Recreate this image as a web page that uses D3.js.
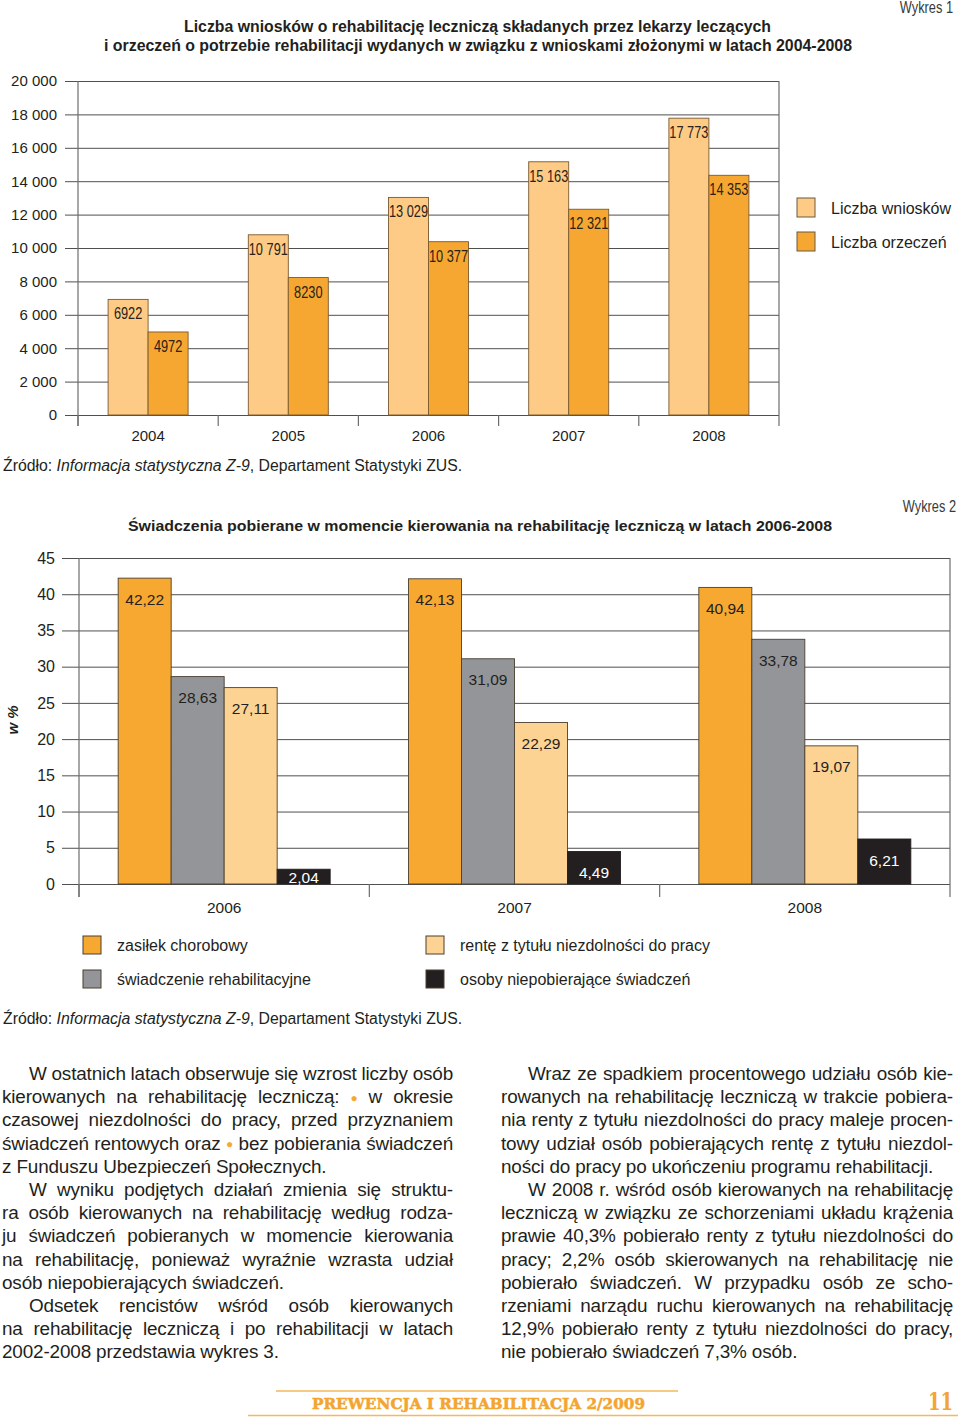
<!DOCTYPE html>
<html><head><meta charset="utf-8">
<script src="https://cdn.jsdelivr.net/npm/d3@7"></script>
<style>
html,body{margin:0;padding:0;background:#fff;}
svg{display:block;font-family:"Liberation Sans",Arial,Helvetica,sans-serif;}
</style></head><body>
<svg id="page" width="960" height="1420"></svg>
<script>
// ---------- DATA ----------
const years1 = ["2004","2005","2006","2007","2008"];
const wnioski = [6922,10791,13029,15163,17773];
const orzeczenia = [4972,8230,10377,12321,14353];
const series1 = ["Liczba wniosków","Liczba orzeczeń"];
const yTicks1 = [0,2000,4000,6000,8000,10000,12000,14000,16000,18000,20000];
const yTickLabels1 = ["0","2 000","4 000","6 000","8 000","10 000","12 000","14 000","16 000","18 000","20 000"];

const years2 = ["2006","2007","2008"];
const zasilek = [42.22,42.13,40.94];
const swiadczenieRehab = [28.63,31.09,33.78];
const renta = [27.11,22.29,19.07];
const niepobierajace = [2.04,4.49,6.21];
const series2 = ["zasiłek chorobowy","świadczenie rehabilitacyjne","rentę z tytułu niezdolności do pracy","osoby niepobierające świadczeń"];
const yTicks2 = [0,5,10,15,20,25,30,35,40,45];

const title1 = ["Liczba wniosków o rehabilitację leczniczą składanych przez lekarzy leczących",
                "i orzeczeń o potrzebie rehabilitacji wydanych w związku z wnioskami złożonymi w latach 2004-2008"];
const title2 = "Świadczenia pobierane w momencie kierowania na rehabilitację leczniczą w latach 2006-2008";

const leftCol = [
 {t:"W ostatnich latach obserwuje się wzrost liczby osób", indent:true},
 {t:"kierowanych na rehabilitację leczniczą: ● w okresie"},
 {t:"czasowej niezdolności do pracy, przed przyznaniem"},
 {t:"świadczeń rentowych oraz ● bez pobierania świadczeń"},
 {t:"z Funduszu Ubezpieczeń Społecznych.", last:true},
 {t:"W wyniku podjętych działań zmienia się struktu-", indent:true},
 {t:"ra osób kierowanych na rehabilitację według rodza-"},
 {t:"ju świadczeń pobieranych w momencie kierowania"},
 {t:"na rehabilitację, ponieważ wyraźnie wzrasta udział"},
 {t:"osób niepobierających świadczeń.", last:true},
 {t:"Odsetek rencistów wśród osób kierowanych", indent:true},
 {t:"na rehabilitację leczniczą i po rehabilitacji w latach"},
 {t:"2002-2008 przedstawia wykres 3.", last:true}
];
const rightCol = [
 {t:"Wraz ze spadkiem procentowego udziału osób kie-", indent:true},
 {t:"rowanych na rehabilitację leczniczą w trakcie pobiera-"},
 {t:"nia renty z tytułu niezdolności do pracy maleje procen-"},
 {t:"towy udział osób pobierających rentę z tytułu niezdol-"},
 {t:"ności do pracy po ukończeniu programu rehabilitacji.", last:true},
 {t:"W 2008 r. wśród osób kierowanych na rehabilitację", indent:true},
 {t:"leczniczą w związku ze schorzeniami układu krążenia"},
 {t:"prawie 40,3% pobierało renty z tytułu niezdolności do"},
 {t:"pracy; 2,2% osób skierowanych na rehabilitację nie"},
 {t:"pobierało świadczeń. W przypadku osób ze scho-"},
 {t:"rzeniami narządu ruchu kierowanych na rehabilitację"},
 {t:"12,9% pobierało renty z tytułu niezdolności do pracy,"},
 {t:"nie pobierało świadczeń 7,3% osób.", last:true}
];

// ---------- HELPERS ----------
const svg = d3.select("#page");
const INK = "#231f20";
const fmt1 = v => v >= 10000 ? d3.format(",")(v).replace(/,/g," ") : String(v);
const fmt2 = v => d3.format(".2f")(v).replace(".",",");
function cond(sel, x, y, txt, size, anchor, sx, opts={}) {
  return sel.append("text")
    .attr("transform",`translate(${x},${y}) scale(${sx},1)`)
    .attr("text-anchor",anchor).attr("font-size",size).attr("fill",opts.fill||INK)
    .attr("font-weight",opts.weight||"normal").text(txt);
}

// ---------- CHART 1 ----------
const c1 = {l:78, r:779, t:81, b:415};
const g1 = svg.append("g");
const x1 = d3.scaleBand().domain(years1).range([c1.l, c1.r]);
const y1 = d3.scaleLinear().domain([0,20000]).range([c1.b, c1.t]);
const colors1 = ["#fdcb85","#f6a731"];

g1.append("g").attr("transform","translate(65,0)")
  .call(d3.axisLeft(y1).tickValues(yTicks1).tickSize(-(c1.r-65)).tickPadding(8)
        .tickFormat((d,i)=>yTickLabels1[i]))
  .call(g=>g.select(".domain").remove())
  .call(g=>g.selectAll(".tick line").attr("stroke","#505050").attr("stroke-width",1))
  .call(g=>g.selectAll(".tick text").attr("font-size",15).attr("fill",INK)
        .attr("font-family","Liberation Sans, Arial, sans-serif"));

[c1.l, c1.r].forEach(xv=>g1.append("line").attr("x1",xv).attr("x2",xv).attr("y1",c1.t).attr("y2",c1.b+11)
  .attr("stroke","#6d6d6d").attr("stroke-width",1.2));
years1.forEach(yr=>g1.append("line").attr("x1",x1(yr)).attr("x2",x1(yr)).attr("y1",c1.b).attr("y2",c1.b+11)
  .attr("stroke","#6d6d6d").attr("stroke-width",1.2));

const pairW = 80;
const xs1 = d3.scaleBand().domain(series1).range([0,pairW]);
const data1 = [];
years1.forEach((yr,i)=>{ data1.push({yr, s:series1[0], v:wnioski[i], c:colors1[0]});
                          data1.push({yr, s:series1[1], v:orzeczenia[i], c:colors1[1]}); });
const off1 = (x1.bandwidth()-pairW)/2;
g1.selectAll("rect.bar").data(data1).join("rect").attr("class","bar")
  .attr("x",d=>x1(d.yr)+off1+xs1(d.s)).attr("width",xs1.bandwidth())
  .attr("y",d=>y1(d.v)).attr("height",d=>y1(0)-y1(d.v))
  .attr("fill",d=>d.c).attr("stroke","#7a5a30").attr("stroke-width",0.9);
data1.forEach(d=>{
  cond(g1, x1(d.yr)+off1+xs1(d.s)+xs1.bandwidth()/2, y1(d.v)+20, fmt1(d.v), 16, "middle", 0.8, {fill:"#2b2118"});
});
g1.append("g").attr("transform",`translate(0,${c1.b+11})`)
  .call(d3.axisBottom(x1).tickSize(0).tickPadding(4))
  .call(g=>g.select(".domain").remove())
  .call(g=>g.selectAll("text").attr("font-size",15).attr("fill",INK).attr("font-family","Liberation Sans, Arial, sans-serif"));

series1.forEach((s,i)=>{
  g1.append("rect").attr("x",797).attr("y",198+i*34).attr("width",18).attr("height",19)
    .attr("fill",colors1[i]).attr("stroke","#6b5a40").attr("stroke-width",1);
  g1.append("text").attr("x",831).attr("y",213.5+i*34).attr("font-size",16).attr("fill",INK).text(s);
});
svg.append("text").attr("x",184).attr("y",32).attr("font-size",16).attr("font-weight","bold").attr("fill",INK)
  .attr("textLength",587).attr("lengthAdjust","spacingAndGlyphs").text(title1[0]);
svg.append("text").attr("x",104).attr("y",51).attr("font-size",16).attr("font-weight","bold").attr("fill",INK)
  .attr("textLength",748).attr("lengthAdjust","spacingAndGlyphs").text(title1[1]);
cond(svg, 953, 13, "Wykres 1", 16, "end", 0.8, {fill:"#3a3a3a"});
function source(y){
  const t = svg.append("text").attr("x",3).attr("y",y).attr("font-size",15.8).attr("fill",INK);
  t.append("tspan").text("Źródło: ");
  t.append("tspan").attr("font-style","italic").text("Informacja statystyczna Z-9");
  t.append("tspan").text(", Departament Statystyki ZUS.");
}
source(471);

// ---------- CHART 2 ----------
const c2 = {l:79, r:950, t:558, b:884};
const g2 = svg.append("g");
const x2 = d3.scaleBand().domain(years2).range([c2.l, c2.r]);
const y2 = d3.scaleLinear().domain([0,45]).range([c2.b, c2.t]);
const colors2 = ["#f7a831","#939598","#fdd393","#231f20"];
g2.append("g").attr("transform","translate(62,0)")
  .call(d3.axisLeft(y2).tickValues(yTicks2).tickSize(-(c2.r-62)).tickPadding(7))
  .call(g=>g.select(".domain").remove())
  .call(g=>g.selectAll(".tick line").attr("stroke","#505050").attr("stroke-width",1))
  .call(g=>g.selectAll(".tick text").attr("font-size",16).attr("fill",INK)
        .attr("font-family","Liberation Sans, Arial, sans-serif"));
[c2.l, c2.r].forEach(xv=>g2.append("line").attr("x1",xv).attr("x2",xv).attr("y1",c2.t).attr("y2",c2.b+13)
  .attr("stroke","#6d6d6d").attr("stroke-width",1.2));
years2.forEach(yr=>g2.append("line").attr("x1",x2(yr)).attr("x2",x2(yr)).attr("y1",c2.b).attr("y2",c2.b+13)
  .attr("stroke","#6d6d6d").attr("stroke-width",1.2));

const grpW = 212;
const xs2 = d3.scaleBand().domain(series2).range([0,grpW]);
const off2 = (x2.bandwidth()-grpW)/2;
const vals2 = [zasilek, swiadczenieRehab, renta, niepobierajace];
const data2 = [];
years2.forEach((yr,i)=>series2.forEach((s,j)=>data2.push({yr,s,j,v:vals2[j][i]})));
g2.selectAll("rect.bar").data(data2).join("rect").attr("class","bar")
  .attr("x",d=>x2(d.yr)+off2+xs2(d.s)).attr("width",xs2.bandwidth())
  .attr("y",d=>y2(d.v)).attr("height",d=>y2(0)-y2(d.v))
  .attr("fill",d=>colors2[d.j]).attr("stroke",d=>d.j===3?"#231f20":"#4a3f30").attr("stroke-width",0.9);
g2.selectAll("text.val").data(data2).join("text").attr("class","val")
  .attr("x",d=>x2(d.yr)+off2+xs2(d.s)+xs2.bandwidth()/2)
  .attr("y",d=>Math.min(y2(d.v)+21, y2(0)-7)+5.5)
  .attr("text-anchor","middle").attr("font-size",15.5)
  .attr("fill",d=>d.j===3?"#ffffff":INK).text(d=>fmt2(d.v));
g2.append("g").attr("transform",`translate(0,${c2.b+13})`)
  .call(d3.axisBottom(x2).tickSize(0).tickPadding(5))
  .call(g=>g.select(".domain").remove())
  .call(g=>g.selectAll("text").attr("font-size",15.5).attr("fill",INK).attr("font-family","Liberation Sans, Arial, sans-serif"));
svg.append("text").attr("transform","translate(18,720) rotate(-90)").attr("text-anchor","middle")
  .attr("font-size",15).attr("font-weight","bold").attr("font-style","italic").attr("fill",INK).text("w %");
series2.forEach((s,j)=>{
  const col = Math.floor(j/2), row = j%2;
  const lx = col===0 ? 83 : 426, ly = 936 + row*34;
  svg.append("rect").attr("x",lx).attr("y",ly).attr("width",18).attr("height",18)
    .attr("fill",colors2[j]).attr("stroke","#4a3f30").attr("stroke-width",1);
  svg.append("text").attr("x",lx+34).attr("y",ly+15).attr("font-size",16).attr("fill",INK).text(s);
});
svg.append("text").attr("x",128).attr("y",531).attr("font-size",15.5).attr("font-weight","bold").attr("fill",INK)
  .attr("textLength",704).attr("lengthAdjust","spacingAndGlyphs").text(title2);
cond(svg, 956, 512, "Wykres 2", 16, "end", 0.8, {fill:"#3a3a3a"});
source(1024);

// ---------- BODY TEXT ----------
function drawCol(lines, x0, x1r){
  lines.forEach((ln,i)=>{
    const xs = x0 + (ln.indent?27:0);
    const t = svg.append("text").attr("x",xs).attr("y",1080+i*23.2).attr("font-size",18.9)
      .style("letter-spacing","-0.15px").attr("fill",INK);
    const parts = ln.t.split("●");
    parts.forEach((p,k)=>{
      if(k>0) t.append("tspan").attr("fill","#f7a831").attr("font-size",12).attr("dy",-1.5).text("●");
      const sp = t.append("tspan").text(p);
      if(k>0) sp.attr("dy",1.5);
    });
    if(!ln.last){
      const w = t.node().getComputedTextLength();
      const n = (ln.t.match(/ /g)||[]).length;
      if(n>0) t.style("word-spacing", ((x1r-xs-w)/n)+"px");
    }
  });
}
drawCol(leftCol, 2, 453);
drawCol(rightCol, 501, 953);

// ---------- FOOTER ----------
svg.append("line").attr("x1",276).attr("x2",678).attr("y1",1391).attr("y2",1391).attr("stroke","#f5b95a").attr("stroke-width",1.3);
svg.append("line").attr("x1",248).attr("x2",958).attr("y1",1415.5).attr("y2",1415.5).attr("stroke","#f5b95a").attr("stroke-width",1.3);
svg.append("text").attr("x",312).attr("y",1409).attr("font-family","DejaVu Serif, serif").attr("font-weight","bold")
  .attr("font-size",15).attr("fill","#f3a530").attr("stroke","#f3a530").attr("stroke-width",0.5)
  .attr("textLength",333).attr("lengthAdjust","spacingAndGlyphs")
  .text("PREWENCJA  I  REHABILITACJA 2/2009");
svg.append("text").attr("x",953).attr("y",1410).attr("text-anchor","end").attr("font-family","DejaVu Serif, serif")
  .attr("font-weight","bold").attr("font-size",24).attr("fill","#f3a530")
  .attr("transform","translate(953,0) scale(0.75,1) translate(-953,0)").text("11");
</script>
</body></html>
